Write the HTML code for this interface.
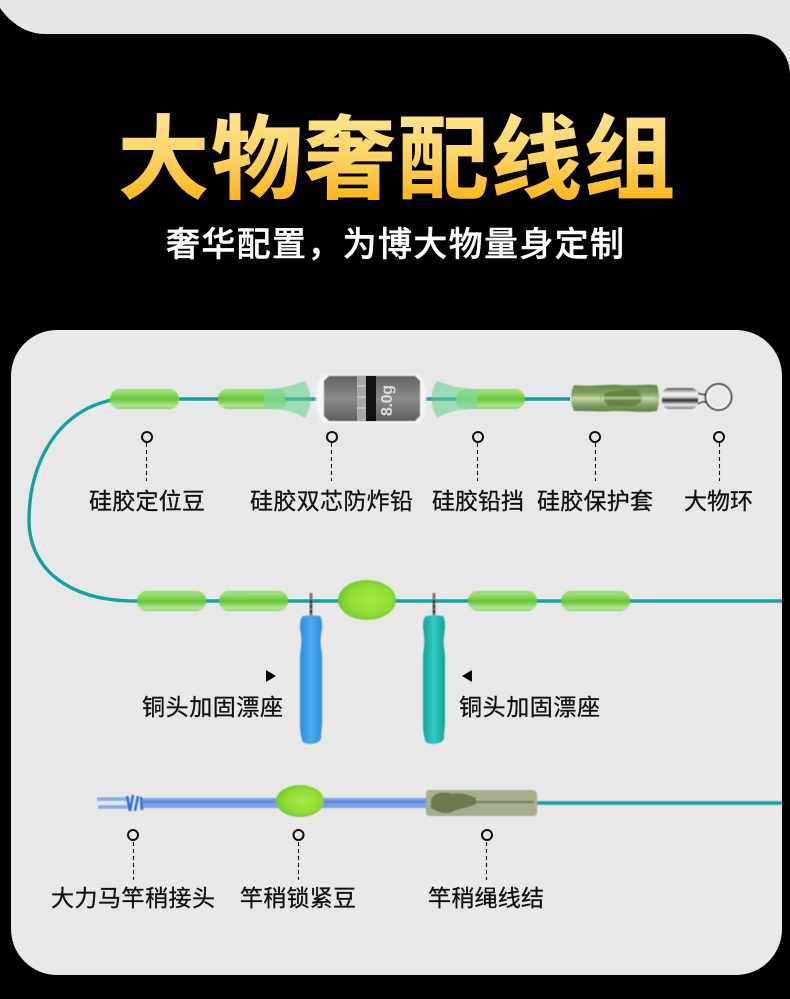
<!DOCTYPE html>
<html lang="zh"><head><meta charset="utf-8"><title>大物奢配线组</title>
<style>html,body{margin:0;padding:0;background:#000}svg{display:block}
.l{font-family:"Liberation Sans","Noto Sans CJK SC",sans-serif;font-size:23px;fill:#111;stroke:#111;stroke-width:.3px}
</style></head><body>
<svg width="790" height="999" viewBox="0 0 790 999" xmlns="http://www.w3.org/2000/svg">
<defs>
<linearGradient id="t" gradientUnits="userSpaceOnUse" x1="0" y1="112" x2="0" y2="200"><stop offset="0" stop-color="#ffe48e"/><stop offset=".5" stop-color="#fdd468"/><stop offset="1" stop-color="#fdb71a"/></linearGradient>
<linearGradient id="b" x1="0" y1="0" x2="0" y2="1"><stop offset="0" stop-color="#93d96c"/><stop offset=".14" stop-color="#9fe07a"/><stop offset=".5" stop-color="#66c435"/><stop offset=".62" stop-color="#7fd053"/><stop offset=".85" stop-color="#b4e79a"/><stop offset="1" stop-color="#86d162"/></linearGradient>
<radialGradient id="e" cx=".55" cy=".5" r=".62"><stop offset="0" stop-color="#a9ea45"/><stop offset=".6" stop-color="#8fdc33"/><stop offset="1" stop-color="#62c02a"/></radialGradient>
<linearGradient id="s" x1="0" y1="0" x2="0" y2="1"><stop offset="0" stop-color="#6c8a4c"/><stop offset=".28" stop-color="#7f9c5f"/><stop offset=".55" stop-color="#b4cb96"/><stop offset=".78" stop-color="#7f9a5f"/><stop offset="1" stop-color="#62804a"/></linearGradient>
<linearGradient id="g" x1="0" y1="0" x2="0" y2="1"><stop offset="0" stop-color="#626262"/><stop offset=".5" stop-color="#8c8c8c"/><stop offset="1" stop-color="#5e5e5e"/></linearGradient>
<linearGradient id="bl" x1="0" y1="0" x2="1" y2="0"><stop offset="0" stop-color="#2f8cdc"/><stop offset=".5" stop-color="#4cabef"/><stop offset="1" stop-color="#2f8cdc"/></linearGradient>
<linearGradient id="te" x1="0" y1="0" x2="1" y2="0"><stop offset="0" stop-color="#16a49c"/><stop offset=".5" stop-color="#30ccc0"/><stop offset="1" stop-color="#15a199"/></linearGradient>
<linearGradient id="m" x1="0" y1="0" x2="0" y2="1"><stop offset="0" stop-color="#555"/><stop offset=".25" stop-color="#f4f4f4"/><stop offset=".42" stop-color="#ddd"/><stop offset=".58" stop-color="#222"/><stop offset=".8" stop-color="#eee"/><stop offset="1" stop-color="#777"/></linearGradient>
<filter id="soft" x="-10%" y="-10%" width="120%" height="120%"><feGaussianBlur stdDeviation=".45"/></filter>
<filter id="halo" x="-10%" y="-20%" width="120%" height="140%"><feGaussianBlur stdDeviation="1.200"/></filter>
</defs>
<rect width="790" height="999" fill="#000"/>
<path d="M0,0H790V75A42,41 0 0 0 748,34H45C25,34 10,22 0,8Z" fill="#e6e6e6"/>
<rect x="11" y="330" width="771" height="645" rx="46" fill="#e8e8e8"/>
<text x="118" y="191" textLength="557" font-family="'Liberation Sans','Noto Sans CJK SC',sans-serif" font-weight="700" font-size="91" fill="url(#t)" stroke="url(#t)" stroke-width="1">大物奢配线组</text>
<text x="166" y="256" textLength="458" font-family="'Liberation Sans','Noto Sans CJK SC',sans-serif" font-weight="500" font-size="34" fill="#fff" stroke="#fff" stroke-width=".4">奢华配置，为博大物量身定制</text>

<!-- top rig -->
<path d="M112,400C58,411 29,462 29,520C29,570 70,601 135,601H782" fill="none" stroke="#11a3a2" stroke-width="3.400"/>
<path d="M179,399H320M425,399H570" stroke="#0f9ea0" stroke-width="3.400" fill="none"/>
<g filter="url(#soft)">
<rect x="110" y="389" width="69" height="20" rx="9.500" fill="url(#b)"/>
<rect x="218" y="389" width="69" height="20" rx="9.500" fill="url(#b)"/>
<rect x="456" y="389" width="69" height="20" rx="9.500" fill="url(#b)"/>
<path d="M264,389C285,389 295,384 305,381Q316,398 305,418C295,412 285,409 264,409Z" fill="#7fd79c" fill-opacity=".72"/>
<path d="M478,389C457,389 447,384 437,381Q426,398 437,418C447,412 457,409 478,409Z" fill="#7fd79c" fill-opacity=".72"/>
<path d="M285,399H312M430,399H456" stroke="#3fb3a0" stroke-width="3"/>
</g>
<path d="M322,375Q309,398 322,423H420Q433,398 420,375Z" fill="#f6f6f6" filter="url(#halo)"/>
<path d="M329,376H415L420,381V416L415,421H329L324,416V381Z" fill="url(#g)" filter="url(#soft)"/>
<rect x="357" y="376" width="9" height="45" fill="#a8a8a8"/><path d="M357,386H366M357,397H366M357,408H366" stroke="#ddd" stroke-width="1"/><rect x="366" y="376" width="10" height="45" fill="#111"/>
<text x="0" y="0" transform="translate(392,416) rotate(-90)" font-family="'Liberation Sans',sans-serif" font-size="16" font-weight="700" fill="#dcdcdc" textLength="31">8.0g</text>

<g filter="url(#soft)">
<path d="M574,385C590,387 605,384 620,385C635,386 645,384 657,385Q661,398 657,411C645,413 630,411 615,411C600,412 585,411 574,411Q568,398 574,385Z" fill="url(#s)"/>
<path d="M604,394C610,390 618,392 625,390C632,389 638,389 640,394C644,399 640,404 636,405C628,408 620,405 613,406C607,407 603,402 604,394Z" fill="#5c7a3c" fill-opacity=".8"/>
<path d="M572,398H600M602,398H655" stroke="#cfe0b5" stroke-width="3" stroke-opacity=".55"/>
<rect x="662" y="388" width="36" height="21" rx="7" fill="url(#m)"/>
<path d="M698,393Q704,396 707,393M698,404Q704,400 707,403" stroke="#444" stroke-width="1.500" fill="none"/>
<circle cx="718.500" cy="397" r="11.500" fill="none" stroke="#f4f4f4" stroke-width="3"/>
<circle cx="718.500" cy="397" r="13" fill="none" stroke="#333" stroke-width="1.700"/>
</g>

<g fill="none" stroke="#111" stroke-width="2"><circle cx="147" cy="437" r="5"/><circle cx="332" cy="437" r="5"/><circle cx="478" cy="437" r="5"/><circle cx="595" cy="437" r="5"/><circle cx="719" cy="437" r="5"/><circle cx="133" cy="835" r="5"/><circle cx="298.500" cy="835" r="5"/><circle cx="487" cy="835" r="5"/></g>
<g stroke="#111" stroke-width="1.100" stroke-dasharray="4 3"><path d="M146.500,443V481M331.500,443V481M477.500,443V481M595.500,443V481M719.500,443V481M133.500,842V880M298.500,842V880M486.500,842V880"/></g>
<text class="l" x="89" y="509" textLength="116">硅胶定位豆</text>
<text class="l" x="250" y="509" textLength="163">硅胶双芯防炸铅</text>
<text class="l" x="432" y="509" textLength="92">硅胶铅挡</text>
<text class="l" x="537" y="509" textLength="116">硅胶保护套</text>
<text class="l" x="684" y="509" textLength="69">大物环</text>
<text class="l" x="142" y="715" textLength="141">铜头加固漂座</text>
<text class="l" x="459" y="715" textLength="141">铜头加固漂座</text>
<text class="l" x="51" y="906" textLength="164">大力马竿稍接头</text>
<text class="l" x="240" y="906" textLength="116">竿稍锁紧豆</text>
<text class="l" x="428" y="906" textLength="116">竿稍绳线结</text>

<!-- middle rig -->
<g filter="url(#soft)">
<rect x="137" y="591" width="69" height="20" rx="9.500" fill="url(#b)"/>
<rect x="219" y="591" width="69" height="20" rx="9.500" fill="url(#b)"/>
<rect x="468" y="591" width="69" height="20" rx="9.500" fill="url(#b)"/>
<rect x="561" y="591" width="69" height="20" rx="9.500" fill="url(#b)"/>
<ellipse cx="367" cy="600" rx="29" ry="20" fill="url(#e)"/>
<path d="M311,593V616M434,593V616" stroke="#777" stroke-width="3"/>
<path d="M311,600V615M434,600V615" stroke="#222" stroke-width="2" stroke-dasharray="3 2"/>
<path d="M303,616Q311,615 320,616Q322,618 322,628Q320,640 321,648Q322,652 322,660V725Q321,732 321,738Q320,743 311,744Q303,744 302,740Q300,732 300,725V660Q300,652 301,648Q302,638 300,628Q300,618 303,616Z" fill="url(#bl)"/>
<path d="M426,616Q434,615 443,616Q445,618 445,628Q443,640 444,648Q445,652 445,660V725Q444,732 444,738Q443,743 434,744Q426,744 425,740Q423,732 423,725V660Q423,652 424,648Q425,638 423,628Q423,618 426,616Z" fill="url(#te)"/>
</g>
<path d="M266,670L276,676L266,682Z M472,670L462,676L472,682Z" fill="#000"/>

<!-- bottom rig -->
<g filter="url(#soft)">
<path d="M97,799H130M98,807H130" stroke="#86abe8" stroke-width="3.500"/>
<rect x="140" y="798" width="288" height="10" fill="#7aa0ea"/>
<path d="M140,802H428" stroke="#5f88e2" stroke-width="2.500"/>
<path d="M127,796L130,811M133,795L130,811M138,796L135,811M141,797L142,810" stroke="#2f74d8" stroke-width="2.600" fill="none"/>
<ellipse cx="300" cy="801" rx="24" ry="16" fill="url(#e)"/>
<path d="M537,803H782" stroke="#11a3a2" stroke-width="3.400"/>
<path d="M429,790H533Q537,791 537,795V812Q537,816 533,816H430Q426,816 426,812V794Q426,790 429,790Z" fill="#a6ae8c"/>
<path d="M431,800C434,792 444,791 452,794C460,792 466,794 476,798V804C468,808 460,808 452,812C444,815 436,811 431,808Z" fill="#6c7a50"/>
<path d="M476,802H534" stroke="#7a8462" stroke-width="2.500"/>
</g>
</svg>
</body></html>
